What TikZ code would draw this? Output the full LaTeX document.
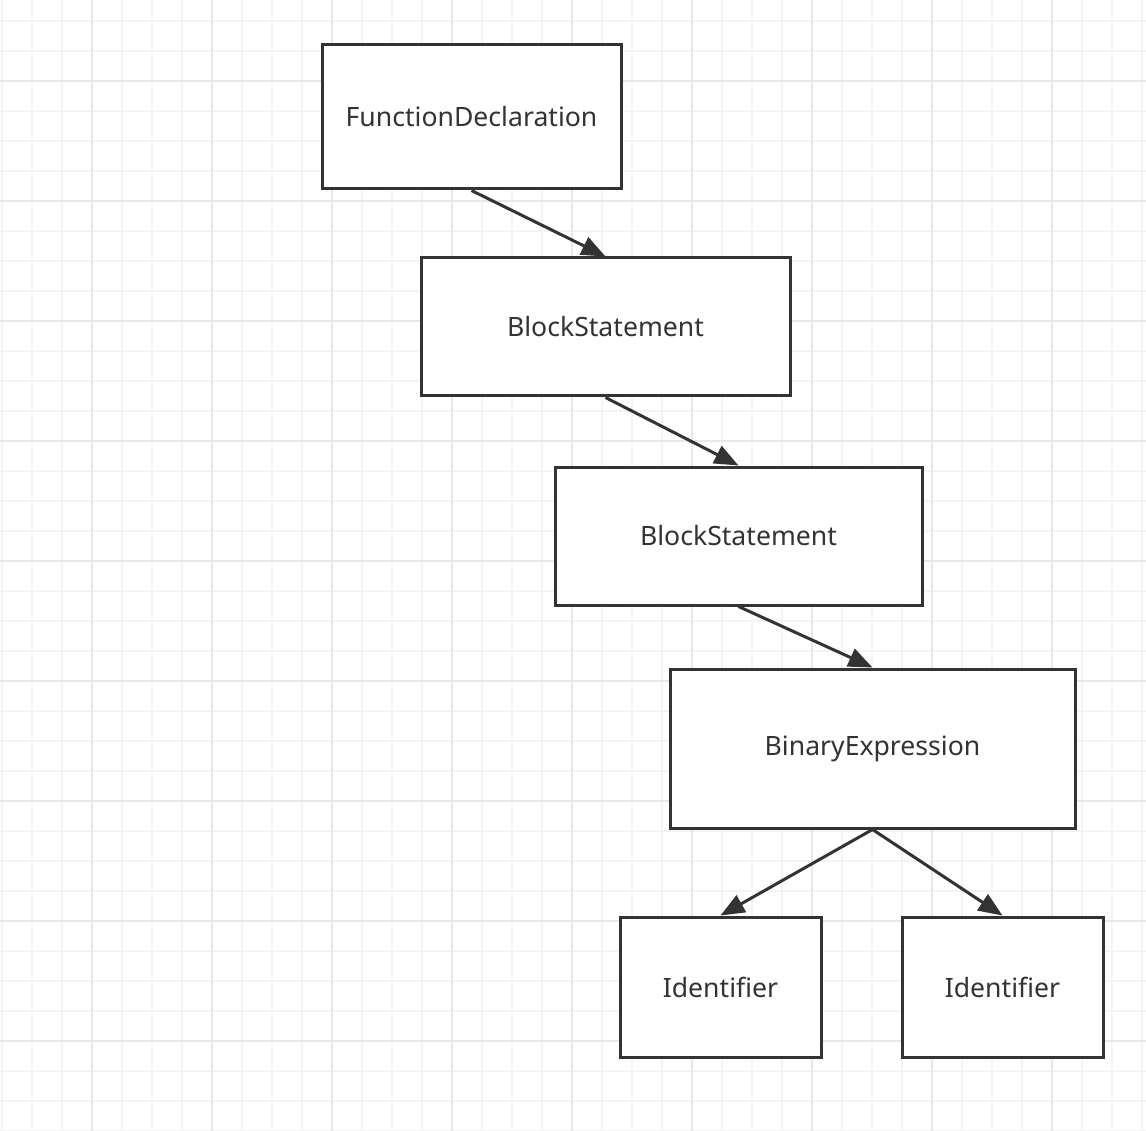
\documentclass[tikz,border=0pt]{standalone}
\usepackage{fontspec}
\setmainfont{Noto Sans}
\usetikzlibrary{arrows.meta}
\definecolor{ink}{HTML}{333333}
\definecolor{gridminor}{HTML}{F4F4F4}
\definecolor{gridmajor}{HTML}{E8E8E8}
\begin{document}
\begin{tikzpicture}[x=1pt,y=-1pt,
  box/.style={draw=ink,line width=3pt,fill=white,inner sep=0pt,font=\fontsize{26.6}{32}\selectfont,text=ink},
  conn/.style={draw=ink,line width=3pt,-{Triangle[length=24pt,width=19pt]}}]
\useasboundingbox (0,0) rectangle (1146,1131);
\fill[white] (0,0) rectangle (1146,1131);
\foreach \x in {2,32,...,1142} \draw[gridminor,line width=1.2pt] (\x,0) -- (\x,1131);
\foreach \y in {21,51,...,1131} \draw[gridminor,line width=1.2pt] (0,\y) -- (1146,\y);
\foreach \x in {92,212,...,1142} \draw[gridmajor,line width=1.5pt] (\x,0) -- (\x,1131);
\foreach \y in {81,201,...,1131} \draw[gridmajor,line width=1.5pt] (0,\y) -- (1146,\y);
\node[box,minimum width=299pt,minimum height=144pt] (fd) at (471.5,117) {FunctionDeclaration};
\node[box,minimum width=369pt,minimum height=138pt] (bs1) at (605.5,327) {BlockStatement};
\node[box,minimum width=367pt,minimum height=138pt] (bs2) at (738.5,536) {BlockStatement};
\node[box,minimum width=405pt,minimum height=159pt] (be) at (872.5,748.5) {BinaryExpression};
\node[box,minimum width=201pt,minimum height=140pt] (id1) at (720.5,987) {Identifier};
\node[box,minimum width=201pt,minimum height=140pt] (id2) at (1002.5,987) {Identifier};
\draw[conn] (fd.south) -- (bs1.north);
\draw[conn] (bs1.south) -- (bs2.north);
\draw[conn] (bs2.south) -- (be.north);
\draw[conn] (be.south) -- (id1.north);
\draw[conn] (be.south) -- (id2.north);
\end{tikzpicture}
\end{document}
